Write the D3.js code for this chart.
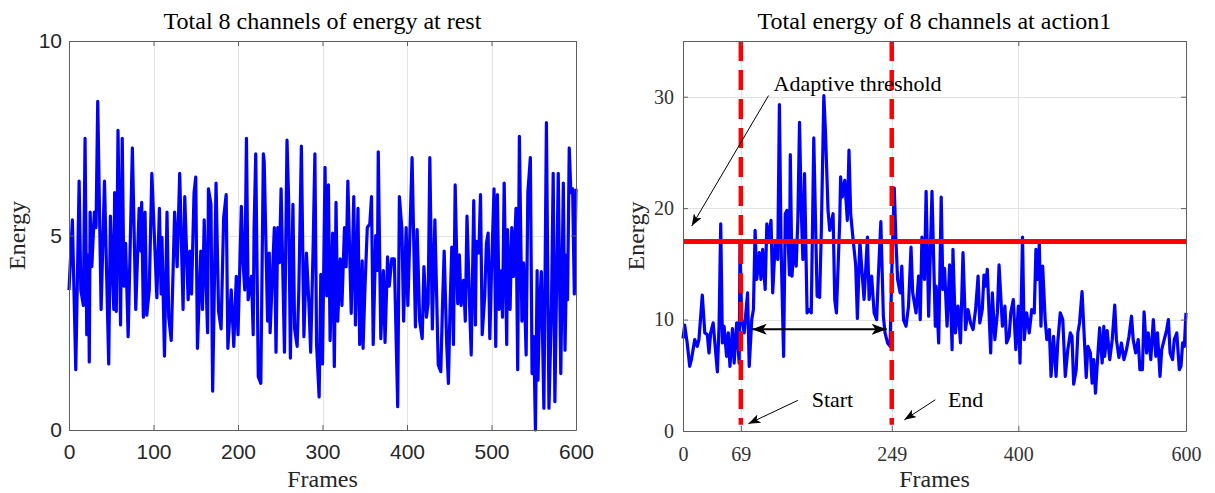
<!DOCTYPE html>
<html>
<head>
<meta charset="utf-8">
<script src="https://cdn.jsdelivr.net/npm/d3@7"></script>
<style>
  body { margin: 0; background: #fff; }
  svg { display: block; }
</style>
</head>
<body>
<div class="mainView"></div>
<script>
// left panel: energy at rest
let restFrames = [0,4,8,12,14,17,19,21,23,24,25,27,30,32,34,38,42,47,49,53,54,56,58,61,63,65,67,70,75,79,83,85,86,88,90,92,95,98,
  101,104,107,109,110,113,116,118,121,125,128,131,135,137,141,143,145,148,150,152,156,158,160,164,165,168,170,174,177,180,183,186,188,192,195,198,
  200,204,206,208,210,212,216,218,219,221,224,227,230,231,235,237,238,243,245,247,249,251,255,258,260,262,265,267,270,272,275,278,281,284,286,289,291,293,296,298,
  300,303,305,307,309,312,314,316,318,321,323,326,328,330,334,337,339,342,344,347,348,350,353,356,358,360,363,365,366,369,372,374,377,379,382,385,389,391,394,396,399,
  401,406,410,412,415,418,420,423,425,427,430,433,437,440,442,444,447,449,451,453,455,457,460,462,464,467,469,471,474,476,479,481,482,485,487,489,492,494,496,498,
  500,503,505,507,509,512,513,515,518,519,522,524,526,529,531,533,536,538,541,543,546,548,550,552,554,555,557,559,562,565,568,571,573,575,579,582,585,587,589,590,592,594,596,598,600];
let restEnergy = [3.6,5.4,1.55,6.4,3.6,3.2,7.5,2.45,4.5,1.75,5.6,4.2,5.6,5.2,8.45,3.1,6.4,1.7,5.5,3.1,6.1,3.05,7.7,2.7,7.5,3.7,4.8,2.4,7.25,3.1,5.7,4.6,5.85,2.9,5.6,2.95,3.6,6.6,
  5.0,3.4,5.7,3.5,4.95,1.9,5.6,2.9,2.3,5.6,4.2,6.6,3.1,6.0,3.35,4.6,3.5,6.1,6.5,2.1,4.6,3.1,5.4,2.5,6.2,5.8,1.0,6.35,3.05,2.6,5.45,6.05,2.1,3.6,2.15,3.95,
  2.45,5.75,4.3,3.6,7.5,3.35,3.95,2.45,5.15,7.1,1.37,1.2,7.1,6.9,2.8,4.55,2.5,5.2,2.0,5.2,4.3,6.2,2.0,7.45,5.85,1.85,5.8,2.6,2.15,3.6,7.3,2.4,4.55,3.2,2.0,4.8,7.1,2.2,0.85,4.0,
  1.7,6.75,3.45,6.3,2.3,5.06,1.63,5.85,2.8,4.4,3.2,5.2,4.2,6.4,3.0,6.0,2.7,5.7,2.2,4.35,2.1,3.5,5.2,5.3,6.0,2.2,5.0,4.1,7.15,2.35,4.1,2.25,4.45,3.7,4.4,4.4,0.6,6.0,5.15,2.8,5.2,
  3.2,7.0,2.65,5.15,2.8,2.35,4.2,2.9,3.25,7.0,2.6,5.4,1.67,1.5,3.2,4.6,2.2,1.2,3.2,4.7,2.2,6.3,3.25,4.5,3.2,3.85,2.8,5.5,3.25,1.93,5.9,2.7,4.85,4.55,6.05,2.45,3.45,4.8,5.06,2.35,
  4.07,6.2,2.15,6.05,3.1,4.1,2.9,6.35,2.2,5.15,3.1,5.2,3.95,5.7,1.55,7.55,2.8,4.3,1.93,6.1,7.0,1.45,2.4,0.0,4.1,1.28,3.25,4.07,0.56,7.9,0.56,3.2,6.6,0.73,6.6,1.45,6.35,2.05,4.5,3.35,7.25,6.1,6.2,3.5,6.2];
let restXTicks = [0,100,200,300,400,500,600];
let restYTicks = [0,5,10];

// right panel: energy during action1
let actionFrames = [0,2,5,8,10,14,17,19,23,26,29,31,33,36,38,41,43,45,47,49,52,54,56,59,61,64,67,68,70,73,75,77,79,82,84,86,88,91,93,95,98,
  100,102,105,107,110,113,115,117,120,122,124,127,128,130,133,135,137,139,141,143,145,148,151,153,156,158,160,163,165,168,170,173,175,179,181,183,187,188,190,193,196,198,
  200,203,206,208,211,213,216,220,222,225,228,231,233,236,239,241,244,247,249,252,254,256,259,261,263,266,269,272,274,278,281,283,285,288,290,293,297,
  301,302,305,308,310,312,315,318,321,322,325,328,331,334,337,340,343,346,349,352,354,357,359,361,363,367,369,372,375,377,381,384,386,389,391,394,397,
  400,402,405,407,410,413,416,419,421,423,425,427,429,432,434,437,439,442,445,447,450,453,456,459,462,464,466,469,471,473,476,478,481,483,486,488,490,492,495,497,
  500,502,503,506,509,512,515,517,520,523,526,529,532,535,537,540,543,545,548,550,553,555,558,561,564,566,569,571,574,577,579,581,584,586,589,592,594,596,598,600];
let actionEnergy = [8.3,9.5,7.9,5.8,6.4,8.2,7.6,8.2,12.2,8.8,8.65,7.0,8.8,9.7,7.9,5.3,9.4,18.6,7.9,9.4,6.7,8.8,5.8,9.2,6.1,9.7,6.1,16.9,10.0,8.8,10.6,12.4,5.8,10.0,10.9,18.0,13.6,16.0,13.6,16.3,12.7,
  18.6,17.1,18.9,12.4,16.9,15.4,29.3,16.5,6.7,19.5,19.8,14.0,24.8,13.9,17.1,14.8,18.9,27.7,20.0,15.4,23.1,10.6,10.9,10.6,26.3,19.0,12.1,12.0,18.0,30.1,26.7,19.8,18.0,19.5,11.8,10.6,18.9,22.8,21.0,22.5,18.9,25.2,
  19.5,17.1,14.9,10.1,17.1,14.8,11.8,17.4,11.8,13.9,10.6,10.0,13.9,18.8,10.3,8.8,7.9,7.6,14.2,21.8,17.1,13.6,12.4,14.8,10.0,9.4,11.2,16.5,12.4,10.6,13.9,10.0,17.4,13.6,21.5,10.3,21.5,
  9.4,13.0,7.9,21.0,12.7,14.6,9.4,14.9,7.3,16.3,8.8,11.2,7.9,16.0,9.1,10.9,9.7,9.1,10.9,13.9,9.7,10.9,14.0,13.0,14.5,7.0,12.4,8.2,10.6,14.9,9.4,11.2,7.9,8.5,10.6,11.8,7.3,
  11.2,6.1,17.4,8.2,10.6,8.8,10.9,10.6,16.3,13.6,16.8,9.4,14.8,10.0,8.2,9.1,4.9,8.5,4.9,7.9,10.6,10.0,4.9,7.3,8.8,8.5,4.2,5.5,8.8,9.7,12.5,9.4,4.8,7.6,7.0,4.3,6.4,3.4,7.0,9.25,
  6.1,9.4,6.7,9.0,6.4,8.2,11.3,8.2,6.6,7.9,6.4,7.3,8.5,10.3,8.2,7.0,8.2,5.5,5.5,10.7,7.0,8.8,6.4,10.0,6.7,8.8,4.9,7.3,8.2,9.1,10.0,7.0,6.4,8.2,8.8,5.5,5.8,7.9,7.6,10.6];
let actionXTicks = [0,69,249,400,600];
let actionYTicks = [0,10,20,30];
let threshold = 17;
let startFrame = 69;
let endFrame = 249;

let serif = "'Liberation Serif', 'Times New Roman', serif";
let sans = "'Liberation Sans', Arial, sans-serif";

let svg = d3.select(".mainView").append("svg")
    .attr("width", 1215)
    .attr("height", 493);

let defs = svg.append("defs");
function addArrowHead(id, len, wid){
    defs.append("marker")
        .attr("id", id)
        .attr("markerUnits", "userSpaceOnUse")
        .attr("viewBox", [0, -wid/2, len, wid].join(" "))
        .attr("markerWidth", len)
        .attr("markerHeight", wid)
        .attr("refX", len)
        .attr("refY", 0)
        .attr("orient", "auto-start-reverse")
        .append("path")
        .attr("d", "M" + len + ",0L0," + (-wid/2) + "L" + (len*0.25) + ",0L0," + (wid/2) + "Z")
        .attr("fill", "#000");
}
addArrowHead("headThin", 12, 9);
addArrowHead("headBold", 15, 11);

function getPanel(left, right, top, bottom, xMax, yMax){
    let x = d3.scaleLinear().domain([0, xMax]).range([left, right]);
    let y = d3.scaleLinear().domain([0, yMax]).range([bottom, top]);
    let g = svg.append("g");
    return { x, y, g, left, right, top, bottom };
}

function drawGrid(panel, xTicks, yTicks){
    let { x, y, g, left, right, top, bottom } = panel;
    g.append("g").selectAll("line").data(xTicks.filter(d => d > 0 && d < x.domain()[1]))
        .join("line")
        .attr("x1", d => Math.round(x(d)) + 0.5).attr("x2", d => Math.round(x(d)) + 0.5)
        .attr("y1", top).attr("y2", bottom)
        .attr("stroke", "#e3e3e3").attr("stroke-width", 1);
    g.append("g").selectAll("line").data(yTicks.filter(d => d > 0 && d < y.domain()[1]))
        .join("line")
        .attr("y1", d => Math.round(y(d)) + 0.5).attr("y2", d => Math.round(y(d)) + 0.5)
        .attr("x1", left).attr("x2", right)
        .attr("stroke", "#e3e3e3").attr("stroke-width", 1);
}

function drawAxes(panel, xTicks, yTicks, opts){
    let { x, y, g, left, right, top, bottom } = panel;
    let styleAxis = sel => {
        sel.select(".domain").attr("stroke", "#5e5e5e");
        sel.selectAll(".tick line").attr("stroke", "#5e5e5e");
        sel.selectAll("text").attr("fill", opts.color)
            .style("font-family", opts.font).style("font-size", opts.size + "px");
    };
    g.append("g").attr("transform", "translate(0," + bottom + ")")
        .call(d3.axisBottom(x).tickValues(xTicks).tickSizeInner(-5).tickSizeOuter(0).tickPadding(opts.xPad))
        .call(styleAxis);
    g.append("g").attr("transform", "translate(0," + top + ")")
        .call(d3.axisTop(x).tickValues(xTicks).tickSizeInner(-5).tickSizeOuter(0).tickFormat(""))
        .call(styleAxis);
    g.append("g").attr("transform", "translate(" + left + ",0)")
        .call(d3.axisLeft(y).tickValues(yTicks).tickSizeInner(-5).tickSizeOuter(0).tickPadding(opts.yPad))
        .call(styleAxis);
    g.append("g").attr("transform", "translate(" + right + ",0)")
        .call(d3.axisRight(y).tickValues(yTicks).tickSizeInner(-5).tickSizeOuter(0).tickFormat(""))
        .call(styleAxis);
}

function drawLabels(panel, title, ylabelX){
    let { g, left, right, top, bottom } = panel;
    let cx = (left + right) / 2;
    g.append("text").attr("x", cx).attr("y", 29)
        .attr("text-anchor", "middle")
        .style("font-family", serif).style("font-size", "24px").attr("fill", "#000")
        .text(title);
    g.append("text").attr("x", cx).attr("y", 487)
        .attr("text-anchor", "middle")
        .style("font-family", serif).style("font-size", "24px").attr("fill", "#262626")
        .text("Frames");
    g.append("text")
        .attr("transform", "translate(" + ylabelX + "," + (top + bottom) / 2 + ") rotate(-90)")
        .attr("text-anchor", "middle")
        .style("font-family", serif).style("font-size", "24px").attr("fill", "#262626")
        .text("Energy");
}

function drawSeries(panel, frames, values){
    let { x, y, g } = panel;
    let line = d3.line().x(d => x(d[0])).y(d => y(d[1]));
    g.append("path")
        .datum(d3.zip(frames, values))
        .attr("d", line)
        .attr("fill", "none")
        .attr("stroke", "#0000ff")
        .attr("stroke-width", 3.2)
        .attr("stroke-linejoin", "round");
}

// ---- left panel
let restPanel = getPanel(69, 576, 41, 430, 600, 10);
drawGrid(restPanel, restXTicks, restYTicks);
drawSeries(restPanel, restFrames, restEnergy);
drawAxes(restPanel, restXTicks, restYTicks, { font: sans, size: 21, color: "#262626", xPad: 14, yPad: 7 });
drawLabels(restPanel, "Total 8 channels of energy at rest", 25);

// ---- right panel
let actPanel = getPanel(683, 1186, 41, 431, 600, 35);
drawGrid(actPanel, actionXTicks, actionYTicks);
drawSeries(actPanel, actionFrames, actionEnergy);
(function(){
    let { x, y, g } = actPanel;
    g.append("line")
        .attr("x1", x(1)).attr("x2", x(600))
        .attr("y1", y(threshold)).attr("y2", y(threshold))
        .attr("stroke", "#ff0000").attr("stroke-width", 5);
    [startFrame, endFrame].forEach(f => {
        g.append("line")
            .attr("x1", x(f)).attr("x2", x(f))
            .attr("y1", y(35)).attr("y2", y(0.55))
            .attr("stroke", "#ff0000").attr("stroke-width", 4.5)
            .attr("stroke-dasharray", "20,9");
    });
})();
drawAxes(actPanel, actionXTicks, actionYTicks, { font: serif, size: 20, color: "#333", xPad: 16, yPad: 9 });
drawLabels(actPanel, "Total energy of 8 channels at action1", 644);

// annotations on the right panel
(function(){
    let { x, y, g } = actPanel;
    let txt = (t, fx, fy) => g.append("text").attr("x", x(fx)).attr("y", y(fy))
        .style("font-family", serif).style("font-size", "22px").attr("fill", "#000").text(t);
    let arrow = (x1, y1, x2, y2, w, head, both) => {
        let l = g.append("line")
            .attr("x1", x(x1)).attr("y1", y(y1)).attr("x2", x(x2)).attr("y2", y(y2))
            .attr("stroke", "#000").attr("stroke-width", w)
            .attr("marker-end", "url(#" + head + ")");
        if (both) l.attr("marker-start", "url(#" + head + ")");
    };
    txt("Adaptive threshold", 108, 30.5);
    arrow(102, 30.1, 10.4, 18.4, 1, "headThin", false);
    arrow(82, 9.13, 243, 9.13, 2.2, "headBold", true);
    txt("Start", 153.5, 2.15);
    arrow(137, 2.75, 78, 0.65, 1, "headThin", false);
    txt("End", 316, 2.15);
    arrow(301, 2.8, 264, 1.0, 1, "headThin", false);
})();
</script>
</body>
</html>
